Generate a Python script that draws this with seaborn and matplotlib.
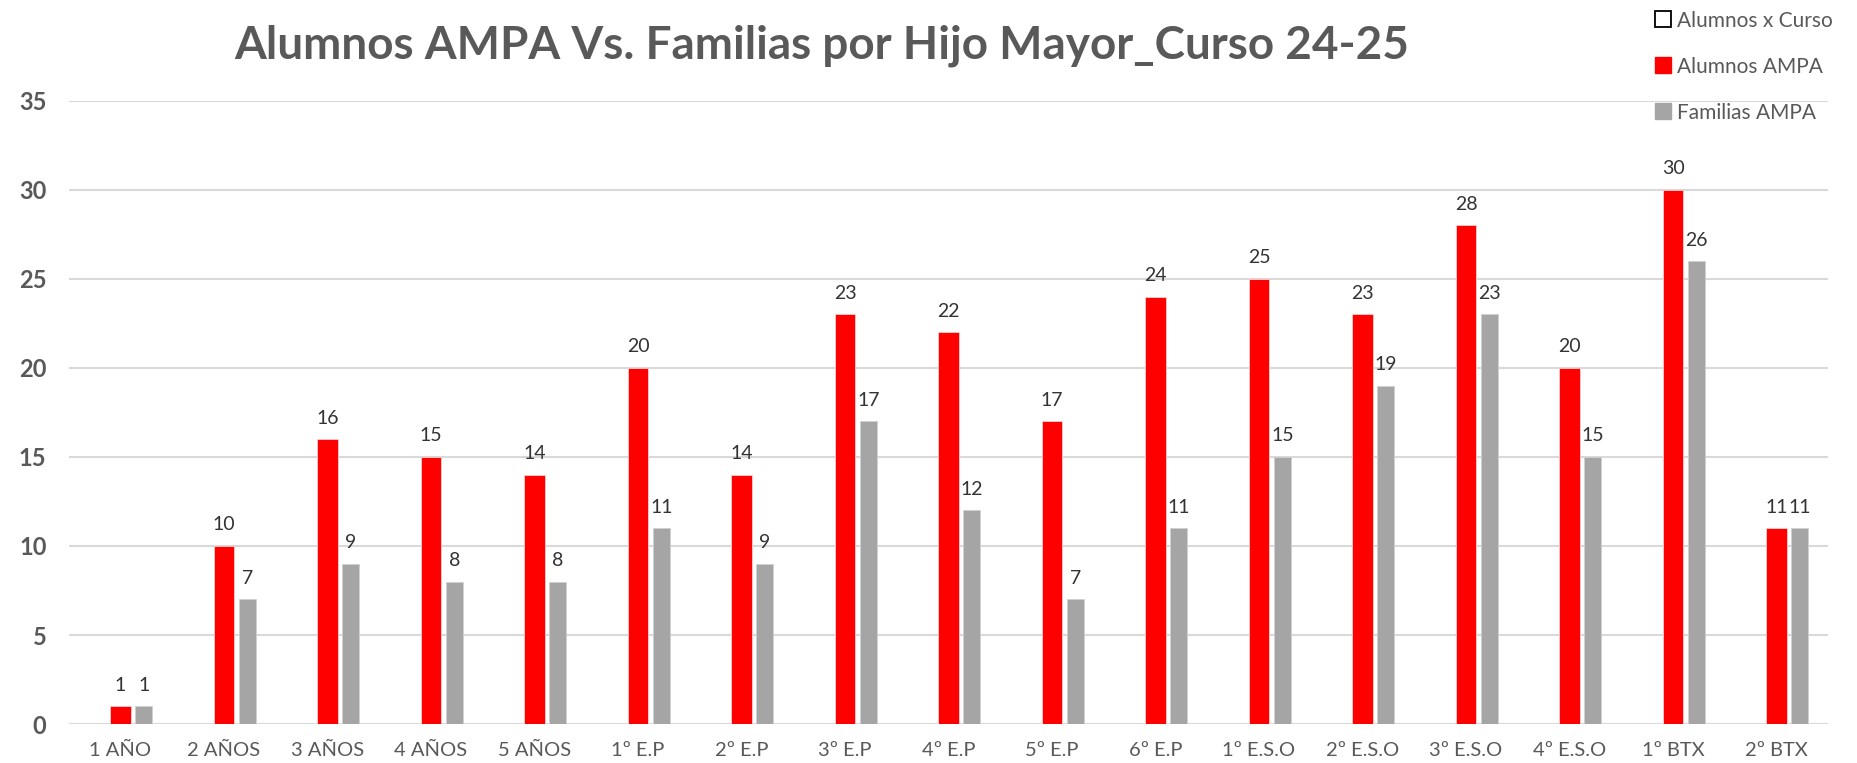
import matplotlib
matplotlib.use("Agg")
import matplotlib.pyplot as plt
from matplotlib import font_manager
from matplotlib.patches import Patch
import seaborn as sns
import pandas as pd
import numpy as np

# data
cursos = ["1 AÑO", "2 AÑOS", "3 AÑOS", "4 AÑOS", "5 AÑOS", "1º E.P", "2º E.P",
          "3º E.P", "4º E.P", "5º E.P", "6º E.P", "1º E.S.O", "2º E.S.O",
          "3º E.S.O", "4º E.S.O", "1º BTX", "2º BTX"]
alumnos_ampa = [1, 10, 16, 15, 14, 20, 14, 23, 22, 17, 24, 25, 23, 28, 20, 30, 11]
familias_ampa = [1, 7, 9, 8, 8, 11, 9, 17, 12, 7, 11, 15, 19, 23, 15, 26, 11]
series_names = ["Alumnos x Curso", "Alumnos AMPA", "Familias AMPA"]

RED = "#FF0000"
GREY = "#A5A5A5"
TXT = "#595959"

sns.set_style("white")
installed = {f.name for f in font_manager.fontManager.ttflist}
main_font = "Lato" if "Lato" in installed else "DejaVu Sans"
narrow_font = "Liberation Sans Narrow" if "Liberation Sans Narrow" in installed else main_font
plt.rcParams['font.family'] = [main_font, 'DejaVu Sans']

idx = np.arange(len(cursos))
df_red = pd.DataFrame({"pos": idx.astype(float), "valor": alumnos_ampa})
df_grey = pd.DataFrame({"pos": idx + 0.225, "valor": familias_ampa})

fig = plt.figure(figsize=(18.58, 7.63), dpi=100)
ax = fig.add_axes([0.037, 0.051, 0.947, 0.817])

sns.barplot(data=df_red, x="pos", y="valor", native_scale=True, width=0.20,
            color=RED, saturation=1, edgecolor="#FFD0D0", linewidth=0.6, ax=ax)
sns.barplot(data=df_grey, x="pos", y="valor", native_scale=True, width=0.165,
            color=GREY, saturation=1, edgecolor="#D0D0D0", linewidth=0.6, ax=ax)

for cont in ax.containers:
    ax.bar_label(cont, padding=9, fontsize=14, color="#333333", family=narrow_font)

ax.set_xlim(-0.5, len(cursos) - 0.5)
ax.set_ylim(0, 35)
ax.set_yticks(range(0, 36, 5))
ax.set_xticks(idx)
ax.set_xticklabels(cursos, fontsize=14.5, color=TXT, family=narrow_font)
for lab in ax.get_yticklabels():
    lab.set_fontsize(17)
    lab.set_fontweight("bold")
    lab.set_color(TXT)
ax.tick_params(axis="x", length=0, pad=13)
ax.tick_params(axis="y", length=0, pad=16)
ax.set_xlabel("")
ax.set_ylabel("")
ax.grid(axis="y", color="#D9D9D9", linewidth=1.5)
ax.set_axisbelow(True)
sns.despine(left=True, bottom=True)

fig.text(0.442, 0.94, "Alumnos AMPA Vs. Familias por Hijo Mayor_Curso 24-25",
         ha="center", va="center", fontsize=33, fontweight="bold", color=TXT)

handles = [Patch(facecolor="white", edgecolor="black", linewidth=1.3),
           Patch(facecolor=RED, edgecolor=RED),
           Patch(facecolor=GREY, edgecolor=GREY)]
leg = fig.legend(handles, series_names, loc="upper left", bbox_to_anchor=(0.886, 0.997),
                 frameon=False, fontsize=15, labelspacing=1.25, handlelength=0.8,
                 handleheight=0.8, handletextpad=0.3, borderaxespad=0)
for t in leg.get_texts():
    t.set_color(TXT)

fig.savefig("out.png", dpi=100)
